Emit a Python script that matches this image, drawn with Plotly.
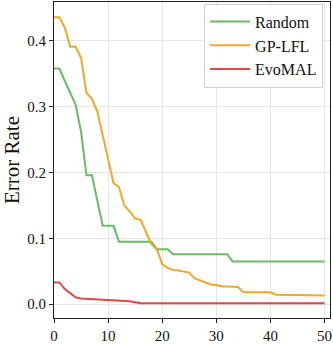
import plotly.graph_objects as go

steps = list(range(51))

random_err = [0.358, 0.358, 0.339, 0.320, 0.303, 0.262, 0.196, 0.196, 0.158, 0.119,
              0.119, 0.119, 0.095, 0.095, 0.095, 0.095, 0.095, 0.095, 0.095, 0.0835,
              0.0835, 0.0835, 0.076, 0.076, 0.076, 0.076, 0.076, 0.076, 0.076, 0.076,
              0.076, 0.076, 0.076, 0.065, 0.065, 0.065, 0.065, 0.065, 0.065, 0.065,
              0.065, 0.065, 0.065, 0.065, 0.065, 0.065, 0.065, 0.065, 0.065, 0.065,
              0.065]

gplfl_err = [0.436, 0.436, 0.420, 0.391, 0.391, 0.374, 0.321, 0.312, 0.293, 0.257,
             0.220, 0.184, 0.178, 0.150, 0.141, 0.130, 0.128, 0.108, 0.091, 0.0835,
             0.061, 0.055, 0.052, 0.051, 0.050, 0.048, 0.039, 0.036, 0.032, 0.030,
             0.029, 0.027, 0.027, 0.027, 0.026, 0.018, 0.018, 0.018, 0.018, 0.018,
             0.018, 0.0145, 0.014, 0.014, 0.014, 0.014, 0.014, 0.013, 0.013, 0.013,
             0.013]

evomal_err = [0.033, 0.033, 0.023, 0.017, 0.0105, 0.0085, 0.008, 0.008, 0.0075, 0.0065,
              0.006, 0.006, 0.006, 0.0055, 0.0045, 0.003, 0.0015, 0.0015, 0.0015, 0.0015,
              0.0015, 0.0015, 0.0015, 0.0015, 0.0015, 0.0015, 0.0015, 0.0015, 0.0015, 0.0015,
              0.0015, 0.0015, 0.0015, 0.0015, 0.0015, 0.0015, 0.0015, 0.0015, 0.0015, 0.0015,
              0.0015, 0.0015, 0.0015, 0.0015, 0.0015, 0.0015, 0.0015, 0.0015, 0.0015, 0.0015,
              0.0015]

series = [("Random", random_err, "#66bd63"),
          ("GP-LFL", gplfl_err, "#f2a62b"),
          ("EvoMAL", evomal_err, "#e04848")]

fig = go.Figure()
for name, vals, col in series:
    fig.add_trace(go.Scatter(x=steps, y=vals, mode="lines", name=name,
                             line=dict(color=col, width=2)))

axis_common = dict(showline=True, linecolor="#222", linewidth=1.2, mirror=True,
                   showgrid=True, gridcolor="#e6e6e6", gridwidth=1,
                   ticks="outside", ticklen=4, tickcolor="#222", zeroline=False,
                   tickfont=dict(family="Liberation Serif", size=15, color="#111"))

fig.update_layout(
    width=333, height=345,
    margin=dict(l=54, r=3, t=1, b=23),
    plot_bgcolor="white", paper_bgcolor="white",
    font=dict(family="Liberation Serif", color="#111"),
    xaxis=dict(range=[0, 51], tickvals=[0, 10, 20, 30, 40, 50], **axis_common),
    yaxis=dict(range=[-0.021, 0.459], tickvals=[0, 0.1, 0.2, 0.3, 0.4],
               tickformat=".1f", title=dict(text="Error Rate", font=dict(size=21),
                                             standoff=8),
               **axis_common),
    legend=dict(x=0.975, y=0.995, xanchor="right", yanchor="top",
                bgcolor="rgba(255,255,255,0.9)", bordercolor="#d0d0d0", borderwidth=1,
                font=dict(family="Liberation Serif", size=16, color="#111"),
                itemwidth=40, tracegroupgap=2),
    showlegend=True,
)

# page has a default 8px body margin; drop it so the figure sits at the corner
fig.write_html("out.html", config={"displayModeBar": False},
               post_script="document.body.style.margin='0';")
